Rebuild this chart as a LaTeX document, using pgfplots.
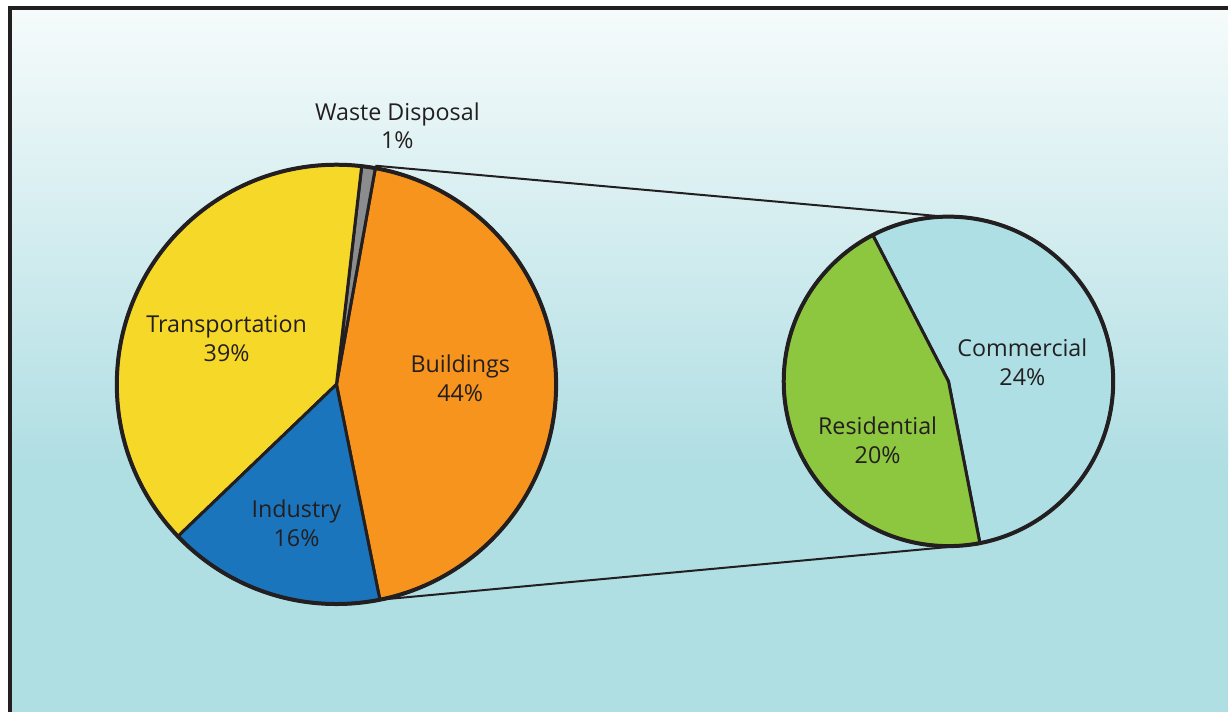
\documentclass[border=0pt]{standalone}
\usepackage{pgfplots}
\pgfplotsset{compat=1.18}
\usepackage{pgfplotstable}
\usepackage{fontspec}
\setmainfont{Open Sans}

\definecolor{cTrans}{HTML}{F6D829}
\definecolor{cBuild}{HTML}{F7941D}
\definecolor{cInd}{HTML}{1B75BC}
\definecolor{cWaste}{HTML}{8A8C8E}
\definecolor{cRes}{HTML}{8DC63F}
\definecolor{cCom}{HTML}{AEDFE5}
\definecolor{bgTop}{HTML}{F6FBFB}
\definecolor{bgBot}{HTML}{AFDEE3}
\definecolor{ink}{HTML}{231F20}

% main pie, counter-clockwise from the lower edge of Buildings
\pgfplotstableread{
label value color
Buildings 44 cBuild
Waste 1 cWaste
Transportation 39 cTrans
Industry 16 cInd
}\maintable

% breakdown of Buildings
\pgfplotstableread{
label value color
Commercial 24 cCom
Residential 20 cRes
}\subtable

\begin{document}
\begin{tikzpicture}
\begin{axis}[
    x=0.5bp, y=0.5bp,
    xmin=0, xmax=1230,
    ymin=0, ymax=713,
    hide axis,
    clip=false,
    font=\fontsize{11.7}{14.5}\selectfont,
]
% background and frame
\fill[white] (axis cs:0,0) rectangle (axis cs:1230,713);
\fill[bgBot] (axis cs:10,0) rectangle (axis cs:1230,244);
\shade[top color=bgTop, bottom color=bgBot] (axis cs:10,243) rectangle (axis cs:1230,705);
\draw[ink, line width=2bp] (axis cs:10,0) -- (axis cs:10,705) -- (axis cs:1230,705);

% connector lines
\draw[ink, line width=1bp] (axis cs:376,547) -- (axis cs:946,496);
\draw[ink, line width=1bp] (axis cs:380.5,112.3) -- (axis cs:981,168);

% main pie
\def\angA{-78.6}
\pgfplotsforeachungrouped \i in {0,...,3}{%
  \pgfplotstablegetelem{\i}{value}\of\maintable \let\v\pgfplotsretval
  \pgfplotstablegetelem{\i}{color}\of\maintable \let\c\pgfplotsretval
  \pgfmathsetmacro\angB{\angA+3.6*\v}%
  \edef\temp{\noexpand\filldraw[fill=\c, draw=ink, line width=1.5bp, line join=round]
    (axis cs:337,328) -- (axis cs:{337+220*cos(\angA)},{328+220*sin(\angA)})
    arc[start angle=\angA, end angle=\angB, radius=110bp] -- cycle;}%
  \temp
  \global\let\angA\angB
}
\draw[ink, line width=2bp] (axis cs:337,328) circle[radius=110bp];

% sub pie
\def\angA{-79}
\pgfplotsforeachungrouped \i in {0,...,1}{%
  \pgfplotstablegetelem{\i}{value}\of\subtable \let\v\pgfplotsretval
  \pgfplotstablegetelem{\i}{color}\of\subtable \let\c\pgfplotsretval
  \pgfmathsetmacro\angB{\angA+360*\v/44}%
  \edef\temp{\noexpand\filldraw[fill=\c, draw=ink, line width=1.5bp, line join=round]
    (axis cs:950,331) -- (axis cs:{950+165*cos(\angA)},{331+165*sin(\angA)})
    arc[start angle=\angA, end angle=\angB, radius=82.5bp] -- cycle;}%
  \temp
  \global\let\angA\angB
}
\draw[ink, line width=2bp] (axis cs:950,331) circle[radius=82.5bp];

% labels
\begin{scope}[every node/.style={align=center, text=ink}]
\node at (axis cs:398,587) {Waste Disposal\\1\%};
\node at (axis cs:227,374) {Transportation\\39\%};
\node at (axis cs:461,334) {Buildings\\44\%};
\node at (axis cs:297,189) {Industry\\16\%};
\node at (axis cs:1024,350) {Commercial\\24\%};
\node at (axis cs:879,272) {Residential\\20\%};
\end{scope}
\end{axis}
\end{tikzpicture}
\end{document}
